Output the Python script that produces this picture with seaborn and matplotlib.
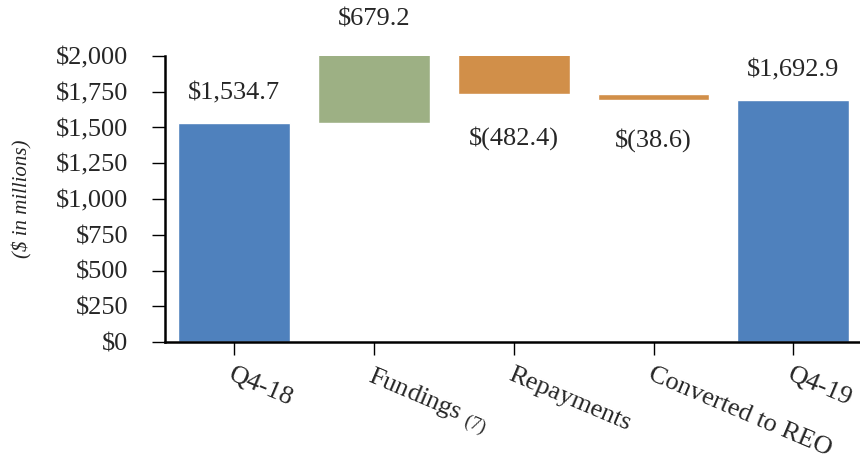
import numpy as np
import pandas as pd
import matplotlib
matplotlib.use("Agg")
import matplotlib.pyplot as plt
import seaborn as sns

categories = ["Q4-18", "Fundings", "Repayments", "Converted to REO", "Q4-19"]
tick_labels = ["Q4-18", r"Fundings $_{(7)}$", "Repayments", "Converted to REO", "Q4-19"]
values = [1534.7, 679.2, -482.4, -38.6, 1692.9]
kinds = ["total", "delta", "delta", "delta", "total"]
value_labels = ["$1,534.7", "$679.2", "$(482.4)", "$(38.6)", "$1,692.9"]
yticks = [0, 250, 500, 750, 1000, 1250, 1500, 1750, 2000]

colors = ["#4F81BD", "#9DB084", "#D18F49", "#D18F49", "#4F81BD"]

# waterfall geometry
bottoms, tops = [], []
running = 0.0
for v, k in zip(values, kinds):
    if k == "total":
        bottoms.append(0.0)
        tops.append(v)
        running = v
    else:
        new = running + v
        bottoms.append(min(running, new))
        tops.append(max(running, new))
        running = new

df = pd.DataFrame({"cat": categories, "top": tops, "bottom": bottoms})

sns.set_style("white")
plt.rcParams["font.family"] = ["Liberation Serif", "DejaVu Serif"]
plt.rcParams["mathtext.fontset"] = "custom"
plt.rcParams["mathtext.rm"] = "Liberation Serif"
plt.rcParams["mathtext.it"] = "Liberation Serif:italic"

fig = plt.figure(figsize=(8.6, 4.62), dpi=100)
ax = fig.add_axes([165 / 860, 120 / 462, (859 - 165) / 860, (342 - 56) / 462])

sns.barplot(data=df, x="cat", y="top", hue="cat", palette=colors, legend=False,
            width=0.8, saturation=1, ax=ax, zorder=2)
sns.barplot(data=df, x="cat", y="bottom", color="white", width=0.82,
            saturation=1, ax=ax, zorder=3)

ax.set_ylim(0, 2000)
ax.set_xlim(-0.496, 4.47)
ax.set_yticks(yticks)
ax.set_yticklabels([f"${t:,.0f}" for t in yticks], fontsize=19)
ax.set_xticks(range(len(categories)))
ax.set_xticklabels(tick_labels, fontsize=19, rotation=-23, ha="left", va="top",
                   rotation_mode="anchor")
ax.tick_params(axis="both", direction="out", length=9.5, width=1, color="black",
               left=True, bottom=True)
ax.tick_params(axis="x", pad=6)
ax.tick_params(axis="y", pad=17)
ax.set_xlabel("")
ax.set_ylabel("($ in millions)", fontsize=15, style="italic", va="center", ha="center")
ax.yaxis.set_label_coords(-0.205, 0.50)

for s in ["top", "right"]:
    ax.spines[s].set_visible(False)
for s in ["left", "bottom"]:
    ax.spines[s].set_linewidth(1.8)
    ax.spines[s].set_color("black")
    ax.spines[s].set_zorder(6)

ylim_top = 2000
for i, (v, k, lab) in enumerate(zip(values, kinds, value_labels)):
    if v >= 0:
        y = min(tops[i], ylim_top)
        off = 29 if k == "total" else 36
        ax.annotate(lab, (i, y), xytext=(0, off), textcoords="offset pixels",
                    ha="center", va="center", fontsize=19, annotation_clip=False)
    else:
        y = bottoms[i]
        off = -44 if i == 2 else -40
        ax.annotate(lab, (i, y), xytext=(0, off), textcoords="offset pixels",
                    ha="center", va="center", fontsize=19, annotation_clip=False)

fig.savefig("out.png", dpi=100)
